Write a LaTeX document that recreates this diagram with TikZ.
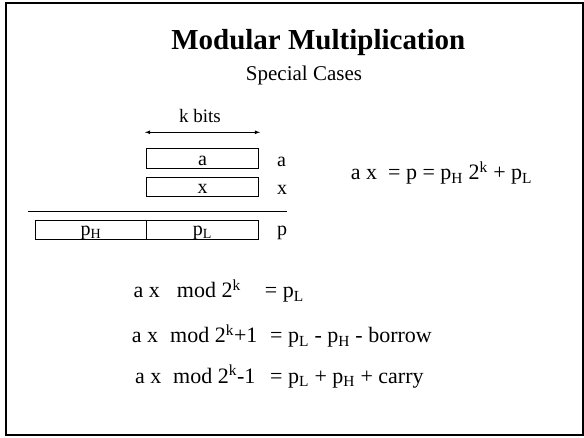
\documentclass[tikz,border=0pt]{standalone}
\usepackage{fontspec}
\setmainfont{Liberation Serif}
\usetikzlibrary{positioning}

\begin{document}
\begin{tikzpicture}[x=1pt, y=-1pt, >=latex,
    cellbox/.style={draw, line width=0.8pt, minimum height=19.5pt, inner sep=0pt,
      text height=14pt, text depth=0pt, font=\fontsize{20}{20}\selectfont},
    pbox/.style={cellbox, text height=11pt},
    reglabel/.style={font=\fontsize{20}{20}\selectfont},
    eqline/.style={anchor=base west, inner sep=0pt, font=\fontsize{22}{22}\selectfont}]
    \useasboundingbox (0,0) rectangle (584,438);
    % Frame
    \draw[line width=2pt] (6,3) rectangle (582.5,434.5);

    % Title
    \node[font=\fontsize{29}{29}\selectfont\bfseries, anchor=base] (title) at (318.3,50) {Modular Multiplication};
    \node[font=\fontsize{21}{21}\selectfont, anchor=base] (subtitle) at (304,81) {Special Cases};

    % Registers
    \node[cellbox, minimum width=111.6pt] (boxa) at (202.5,158.3) {a};
    \node[cellbox, minimum width=111.6pt] (boxx) at (202.5,186.7) {x};
    \node[pbox, minimum width=111.7pt] (boxpH) at (90.85,230) {p\textsubscript{H}};
    \node[pbox, minimum width=111.6pt] (boxpL) at (202.5,230) {p\textsubscript{L}};

    % Width arrow
    \coordinate (kl) at (145,132.3);
    \coordinate (kr) at (260,132.3);
    \draw[<->, line width=0.8pt] (kl) -- (kr)
        node[midway, above=6pt, xshift=-2.5pt, font=\fontsize{19}{19}\selectfont] (kbits) {k bits};

    % Rule
    \coordinate (rulel) at (28,211);
    \coordinate (ruler) at (287,211);
    \draw[line width=0.8pt] (rulel) -- (ruler);

    % Register labels
    \node[reglabel, base right=15pt of boxa, yshift=-1pt] (laba) {a};
    \node[reglabel, base right=15pt of boxx, yshift=-1pt] (labx) {x};
    \node[reglabel, base right=15pt of boxpL] (labp) {p};

    % Equations
    \node[eqline] (prod) at (350.7,180) {a x\ \ = p = p\textsubscript{H} 2\textsuperscript{k} + p\textsubscript{L}};
    \node[eqline] (modk) at (133.3,298) {\makebox[43.4pt][l]{a x}\makebox[88pt][l]{mod 2\textsuperscript{k}}= p\textsubscript{L}};
    \node[eqline] (modkp) at (131.7,343) {\makebox[38.3pt][l]{a x}\makebox[100pt][l]{mod 2\textsuperscript{k}+1}= p\textsubscript{L} - p\textsubscript{H} - borrow};
    \node[eqline] (modkm) at (135,383.5) {\makebox[38pt][l]{a x}\makebox[97pt][l]{mod 2\textsuperscript{k}-1}= p\textsubscript{L} + p\textsubscript{H} + carry};
\end{tikzpicture}
\end{document}
